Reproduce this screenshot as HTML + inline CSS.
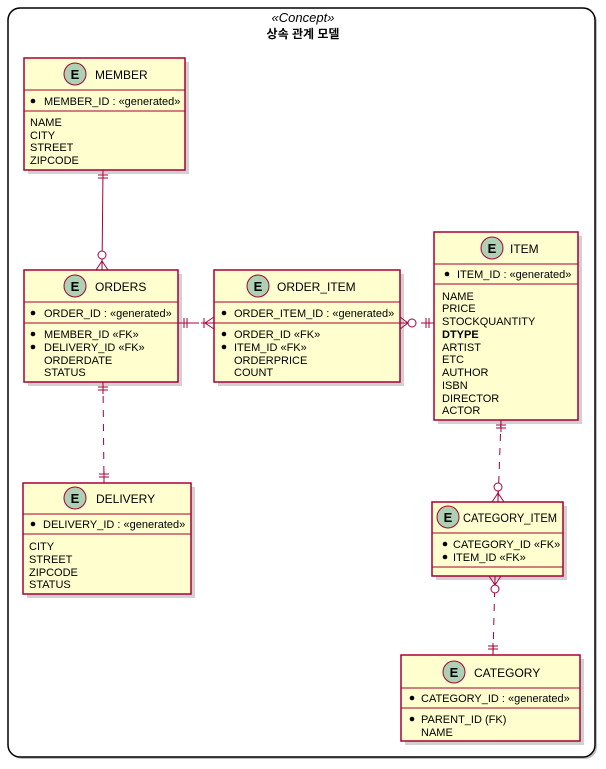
<!DOCTYPE html>
<html><head><meta charset="utf-8"><style>
html,body{margin:0;padding:0;background:#fff;}
svg{display:block;font-family:"Liberation Sans","Noto Sans CJK KR",sans-serif;}
.b{fill:#FEFECE;stroke:#A80036;stroke-width:1.5;}
.s{fill:#000;opacity:0.18;}
.l{stroke:#A80036;stroke-width:1;fill:none;}
.d{stroke:#A80036;stroke-width:1;fill:none;stroke-dasharray:7,7;}
.c{fill:#ADD1B2;stroke:#A80036;stroke-width:1;}
.t{font-size:11px;fill:#000;}
.h{font-size:12px;fill:#000;}
.e{font-size:13px;font-weight:bold;fill:#000;}
</style></head><body>
<svg width="606" height="769" viewBox="0 0 606 769" xmlns="http://www.w3.org/2000/svg">
<rect x="10" y="10" width="587" height="749" rx="12" fill="#000" opacity="0.25"/>
<rect x="8" y="8" width="587" height="749" rx="12" fill="#fff" stroke="#000" stroke-width="1.5"/>
<text x="303" y="22" text-anchor="middle" style="font-size:13px;font-style:italic">«Concept»</text>
<text x="303" y="38" text-anchor="middle" style="font-size:12px;font-weight:bold">상속 관계 모델</text>

<rect class="s" x="28" y="62" width="161" height="112"/>
<rect class="s" x="28" y="274" width="154" height="112"/>
<rect class="s" x="218" y="274" width="186" height="112"/>
<rect class="s" x="438" y="236" width="144" height="188"/>
<rect class="s" x="27" y="487" width="168" height="111"/>
<rect class="s" x="436" y="506" width="131" height="74"/>
<rect class="s" x="405" y="659" width="179" height="86"/>

<rect class="b" x="24" y="58" width="161" height="112"/>
<line class="l" x1="24" y1="90" x2="185" y2="90"/><line class="l" x1="24" y1="111" x2="185" y2="111"/>
<circle class="c" cx="75" cy="74" r="11"/><text class="e" x="75" y="79" text-anchor="middle">E</text>
<text class="h" x="95" y="79">MEMBER</text>
<circle cx="33" cy="101" r="2.3"/><text class="t" x="44" y="105">MEMBER_ID : «generated»</text>
<text class="t" x="30" y="126">NAME</text><text class="t" x="30" y="139">CITY</text><text class="t" x="30" y="151">STREET</text><text class="t" x="30" y="164">ZIPCODE</text>

<rect class="b" x="24" y="270" width="154" height="112"/>
<line class="l" x1="24" y1="302" x2="178" y2="302"/><line class="l" x1="24" y1="323" x2="178" y2="323"/>
<circle class="c" cx="75" cy="286" r="11"/><text class="e" x="75" y="291" text-anchor="middle">E</text>
<text class="h" x="95" y="291">ORDERS</text>
<circle cx="33" cy="313" r="2.3"/><text class="t" x="44" y="317">ORDER_ID : «generated»</text>
<circle cx="33" cy="334" r="2.3"/><text class="t" x="44" y="338">MEMBER_ID «FK»</text>
<circle cx="33" cy="347" r="2.3"/><text class="t" x="44" y="351">DELIVERY_ID «FK»</text>
<text class="t" x="44" y="364">ORDERDATE</text><text class="t" x="44" y="376">STATUS</text>

<rect class="b" x="214" y="270" width="186" height="112"/>
<line class="l" x1="214" y1="302" x2="400" y2="302"/><line class="l" x1="214" y1="323" x2="400" y2="323"/>
<circle class="c" cx="258" cy="286" r="11"/><text class="e" x="258" y="291" text-anchor="middle">E</text>
<text class="h" x="277" y="291">ORDER_ITEM</text>
<circle cx="224" cy="313" r="2.3"/><text class="t" x="234" y="317">ORDER_ITEM_ID : «generated»</text>
<circle cx="224" cy="334" r="2.3"/><text class="t" x="234" y="338">ORDER_ID «FK»</text>
<circle cx="224" cy="347" r="2.3"/><text class="t" x="234" y="351">ITEM_ID «FK»</text>
<text class="t" x="234" y="364">ORDERPRICE</text><text class="t" x="234" y="376">COUNT</text>

<rect class="b" x="434" y="232" width="144" height="188"/>
<line class="l" x1="434" y1="264" x2="578" y2="264"/><line class="l" x1="434" y1="284" x2="578" y2="284"/>
<circle class="c" cx="492" cy="248" r="11"/><text class="e" x="492" y="253" text-anchor="middle">E</text>
<text class="h" x="510" y="253">ITEM</text>
<circle cx="447" cy="274" r="2.3"/><text class="t" x="457" y="278">ITEM_ID : «generated»</text>
<text class="t" x="442" y="300">NAME</text><text class="t" x="442" y="312">PRICE</text><text class="t" x="442" y="325">STOCKQUANTITY</text>
<text class="t" x="442" y="338" font-weight="bold">DTYPE</text><text class="t" x="442" y="351">ARTIST</text><text class="t" x="442" y="363">ETC</text>
<text class="t" x="442" y="376">AUTHOR</text><text class="t" x="442" y="389">ISBN</text><text class="t" x="442" y="402">DIRECTOR</text><text class="t" x="442" y="414">ACTOR</text>

<rect class="b" x="23" y="483" width="168" height="111"/>
<line class="l" x1="23" y1="514" x2="191" y2="514"/><line class="l" x1="23" y1="534" x2="191" y2="534"/>
<circle class="c" cx="75" cy="498" r="11"/><text class="e" x="75" y="503" text-anchor="middle">E</text>
<text class="h" x="96" y="503">DELIVERY</text>
<circle cx="33" cy="524" r="2.3"/><text class="t" x="43" y="528">DELIVERY_ID : «generated»</text>
<text class="t" x="29" y="550">CITY</text><text class="t" x="29" y="563">STREET</text><text class="t" x="29" y="576">ZIPCODE</text><text class="t" x="29" y="588">STATUS</text>

<rect class="b" x="432" y="502" width="131" height="74"/>
<line class="l" x1="432" y1="533" x2="563" y2="533"/><line class="l" x1="432" y1="567" x2="563" y2="567"/>
<circle class="c" cx="448" cy="517" r="11"/><text class="e" x="448" y="522" text-anchor="middle">E</text>
<text class="h" x="463" y="522" textLength="94" lengthAdjust="spacingAndGlyphs">CATEGORY_ITEM</text>
<circle cx="445" cy="544" r="2.3"/><text class="t" x="453" y="548">CATEGORY_ID «FK»</text>
<circle cx="445" cy="557" r="2.3"/><text class="t" x="453" y="561">ITEM_ID «FK»</text>

<rect class="b" x="401" y="655" width="179" height="86"/>
<line class="l" x1="401" y1="688" x2="580" y2="688"/><line class="l" x1="401" y1="708" x2="580" y2="708"/>
<circle class="c" cx="454" cy="672" r="11"/><text class="e" x="454" y="677" text-anchor="middle">E</text>
<text class="h" x="474" y="677">CATEGORY</text>
<circle cx="412" cy="698" r="2.3"/><text class="t" x="421" y="702">CATEGORY_ID : «generated»</text>
<circle cx="412" cy="719" r="2.3"/><text class="t" x="421" y="723">PARENT_ID (FK)</text>
<text class="t" x="421" y="736">NAME</text>

<line class="l" x1="103" y1="170" x2="102" y2="270"/>
<line class="l" x1="98" y1="175" x2="108" y2="175"/><line class="l" x1="98" y1="178" x2="108" y2="178"/>
<circle cx="102" cy="255" r="4" fill="#fff" stroke="#A80036"/>
<path class="l" d="M102 259 L102 270 M102 261 L96 270 M102 261 L108 270"/>

<line class="d" x1="178" y1="323" x2="214" y2="323"/>
<line class="l" x1="178" y1="323" x2="192" y2="323"/>
<line class="l" x1="184" y1="318" x2="184" y2="328"/><line class="l" x1="187" y1="318" x2="187" y2="328"/>
<line class="l" x1="201" y1="323" x2="214" y2="323"/>
<line class="l" x1="204" y1="318" x2="204" y2="328"/>
<path class="l" d="M214 317 L205 323 L214 329"/>

<line class="l" x1="400" y1="323" x2="411" y2="323"/>
<path class="l" d="M400 317 L408 323 L400 329"/>
<circle cx="412" cy="323" r="4" fill="#fff" stroke="#A80036"/>
<line class="l" x1="421" y1="323" x2="434" y2="323"/>
<line class="l" x1="426" y1="318" x2="426" y2="328"/><line class="l" x1="429" y1="318" x2="429" y2="328"/>

<line class="d" x1="103" y1="382" x2="104" y2="483"/>
<line class="l" x1="103" y1="382" x2="103" y2="394"/>
<line class="l" x1="98" y1="387" x2="108" y2="387"/><line class="l" x1="98" y1="390" x2="108" y2="390"/>
<line class="l" x1="104" y1="471" x2="104" y2="483"/>
<line class="l" x1="99" y1="474" x2="109" y2="474"/><line class="l" x1="99" y1="477" x2="109" y2="477"/>

<line class="d" x1="501" y1="420" x2="498" y2="502"/>
<line class="l" x1="501" y1="420" x2="501" y2="432"/>
<line class="l" x1="496" y1="425" x2="506" y2="425"/><line class="l" x1="496" y1="428" x2="506" y2="428"/>
<circle cx="498" cy="487" r="4" fill="#fff" stroke="#A80036"/>
<path class="l" d="M498 491 L498 502 M498 493 L492 502 M498 493 L504 502"/>

<line class="d" x1="495" y1="576" x2="493" y2="655"/>
<path class="l" d="M495 576 L495 587 M489 576 L495 585 L501 576"/>
<circle cx="495" cy="589" r="4" fill="#fff" stroke="#A80036"/>
<line class="l" x1="493" y1="643" x2="493" y2="655"/>
<line class="l" x1="488" y1="646" x2="498" y2="646"/><line class="l" x1="488" y1="649" x2="498" y2="649"/>
</svg>
</body></html>
